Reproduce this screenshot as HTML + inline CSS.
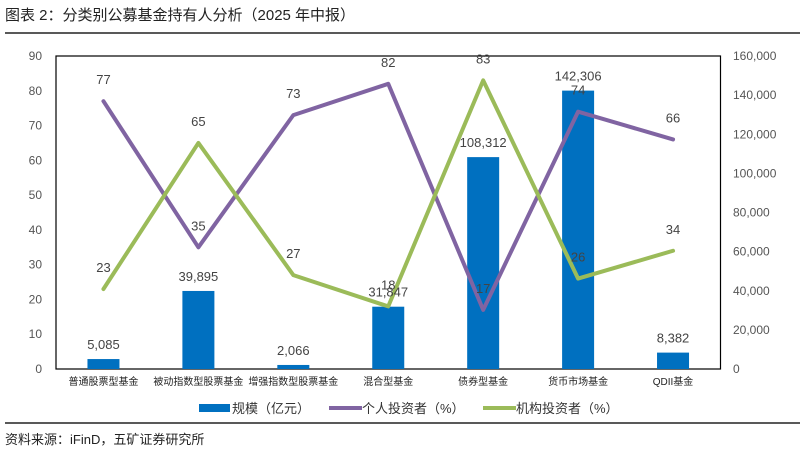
<!DOCTYPE html>
<html><head><meta charset="utf-8"><style>
body{margin:0;background:#fff;width:806px;height:453px;overflow:hidden;font-family:"Liberation Sans","Noto Sans CJK SC",sans-serif;}
svg text{font-family:"Liberation Sans","Noto Sans CJK SC",sans-serif;}
</style></head><body>
<svg id="c" width="806" height="453">
<text x="5" y="20" font-size="15" fill="#222">图表 2：分类别公募基金持有人分析（2025 年中报）</text>
<line x1="5" y1="33" x2="800" y2="33" stroke="#222" stroke-width="1.5"/>
<line x1="5" y1="423" x2="800" y2="423" stroke="#222" stroke-width="1.5"/>
<text x="5" y="444" font-size="13" fill="#222">资料来源：iFinD，五矿证券研究所</text>
<g id="plot"></g>
</svg>
<script>
const categories=["普通股票型基金","被动指数型股票基金","增强指数型股票基金","混合型基金","债券型基金","货币市场基金","QDII基金"];
const scale=[5085,39895,2066,31847,108312,142306,8382];
const scaleLabels=["5,085","39,895","2,066","31,847","108,312","142,306","8,382"];
const personal=[77,35,73,82,17,74,66];
const institutional=[23,65,27,18,83,26,34];
const leftTicks=[0,10,20,30,40,50,60,70,80,90];
const rightTicks=[0,20000,40000,60000,80000,100000,120000,140000,160000];

const NS="http://www.w3.org/2000/svg";
const g=document.getElementById('plot');
const L=56,R=720.5,T=56,B=369;
const yL=v=>B-(v/90)*(B-T);
const yR=v=>B-(v/160000)*(B-T);
const bw=(R-L)/categories.length;
const xC=i=>L+bw*(i+0.5);
function mk(tag,attrs){const e=document.createElementNS(NS,tag);for(const k in attrs)e.setAttribute(k,attrs[k]);g.appendChild(e);return e;}
function txt(x,y,s,size,anchor,fill){const e=mk('text',{x:x,y:y,'font-size':size,'text-anchor':anchor,fill:fill});e.textContent=s;return e;}

const frame=mk('rect',{x:L,y:T,width:R-L,height:B-T,fill:'none',stroke:'#000','stroke-width':1.2});



leftTicks.forEach(v=>{const t=txt(42,yL(v)+4,String(v),12,'end','#555');

});
rightTicks.forEach(v=>{const t=txt(733,yR(v)+4,v.toLocaleString('en-US'),12,'start','#555');

});

categories.forEach((c,i)=>{
 const h=B-yR(scale[i]);
 const r=mk('rect',{x:xC(i)-16,y:yR(scale[i]),width:32,height:h,fill:'#0070c0'});
 
 
 const t=txt(xC(i),B+16,c,10,'middle','#222');
 
 
});

function line(data,color,name){
 const pts=data.map((v,i)=>xC(i)+','+yL(v)).join(' ');
 const p=mk('polyline',{points:pts,fill:'none',stroke:color,'stroke-width':4,'stroke-linejoin':'round','stroke-linecap':'round'});
 
 
}
line(personal,'#8064a2','personal-investor-line');
line(institutional,'#9bbb59','institutional-investor-line');

scale.forEach((v,i)=>{const t=txt(xC(i),yR(v)-10,scaleLabels[i],13,'middle','#444');

});
personal.forEach((v,i)=>{const t=txt(xC(i),yL(v)-17,String(v),13,'middle','#444');

});
institutional.forEach((v,i)=>{const t=txt(xC(i),yL(v)-17,String(v),13,'middle','#444');

});

// legend
const lg1=mk('rect',{x:199,y:404,width:31,height:8,fill:'#0070c0'});


const lt1=txt(232,413,'规模（亿元）',13,'start','#333');


const lg2=mk('line',{x1:329,y1:408,x2:362,y2:408,stroke:'#8064a2','stroke-width':4});


const lt2=txt(362,413,'个人投资者（%）',13,'start','#333');


const lg3=mk('line',{x1:483,y1:408,x2:516,y2:408,stroke:'#9bbb59','stroke-width':4});


const lt3=txt(516,413,'机构投资者（%）',13,'start','#333');


</script>
</body></html>
